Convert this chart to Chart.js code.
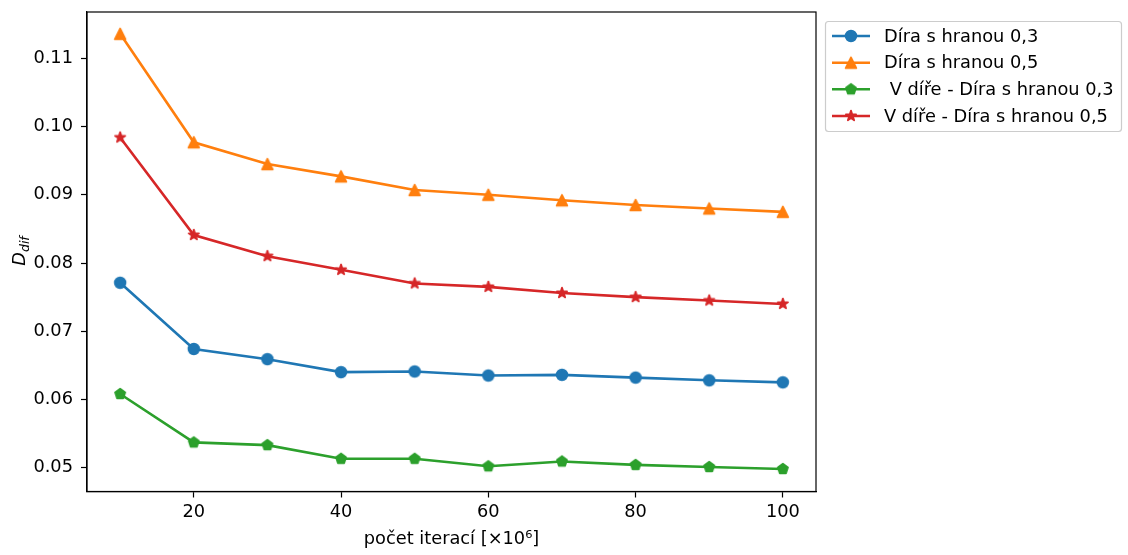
<!DOCTYPE html>
<html>
<head>
<meta charset="utf-8">
<script src="https://cdn.jsdelivr.net/npm/chart.js@4.4.1/dist/chart.umd.min.js"></script>
<style>
  html, body { margin: 0; padding: 0; background: #fff; }
</style>
</head>
<body>
<canvas id="myChart" width="1128" height="555"></canvas>
<script>
// values
const iterations = [10, 20, 30, 40, 50, 60, 70, 80, 90, 100];
const dira03 = [0.0771, 0.0674, 0.0659, 0.0640, 0.0641, 0.0635, 0.0636, 0.0632, 0.0628, 0.0625];
const dira05 = [0.1136, 0.0977, 0.0945, 0.0927, 0.0907, 0.0900, 0.0892, 0.0885, 0.0880, 0.0875];
const vDire03 = [0.0608, 0.0537, 0.0533, 0.0513, 0.0513, 0.0502, 0.0509, 0.0504, 0.0501, 0.0498];
const vDire05 = [0.0984, 0.0841, 0.0810, 0.0790, 0.0770, 0.0765, 0.0756, 0.0750, 0.0745, 0.0740];
const seriesLabels = ["Díra s hranou 0,3", "Díra s hranou 0,5", " V díře - Díra s hranou 0,3", "V díře - Díra s hranou 0,5"];
const xTitle = "počet iterací [×10⁶]";

const FONT = "'DejaVu Sans', 'Liberation Sans', sans-serif";
const FS = 17.8;

// matplotlib-like markers drawn on small canvases
const makeMarker = (shape, color) => {
  const size = 20;
  const r = 5.35;
  const c = document.createElement("canvas");
  c.width = size;
  c.height = size;
  const ctx = c.getContext("2d");
  const cx = size / 2, cy = size / 2;
  ctx.beginPath();
  if (shape === "circle") {
    ctx.arc(cx, cy, r, 0, Math.PI * 2);
  } else if (shape === "triangle") {
    ctx.moveTo(cx, cy - r);
    ctx.lineTo(cx - r, cy + r);
    ctx.lineTo(cx + r, cy + r);
  } else if (shape === "pentagon") {
    for (let i = 0; i < 5; i++) {
      const a = -Math.PI / 2 + i * 2 * Math.PI / 5;
      ctx.lineTo(cx + r * Math.cos(a), cy + r * Math.sin(a));
    }
  } else if (shape === "star") {
    for (let i = 0; i < 10; i++) {
      const a = -Math.PI / 2 + i * Math.PI / 5;
      const rr = i % 2 === 0 ? r : r * 0.381966;
      ctx.lineTo(cx + rr * Math.cos(a), cy + rr * Math.sin(a));
    }
  }
  ctx.closePath();
  ctx.fillStyle = color;
  ctx.fill();
  ctx.lineWidth = 1.78;
  ctx.lineJoin = "round";
  ctx.strokeStyle = color;
  ctx.stroke();
  return c;
};

const colors = ["#1f77b4", "#ff7f0e", "#2ca02c", "#d62728"];
const shapes = ["circle", "triangle", "pentagon", "star"];
const markers = colors.map((col, i) => makeMarker(shapes[i], col));
const seriesValues = [dira03, dira05, vDire03, vDire05];

const datasets = seriesValues.map((vals, i) => ({
  label: seriesLabels[i],
  data: vals.map((v, k) => ({ x: iterations[k], y: v })),
  borderColor: colors[i],
  backgroundColor: colors[i],
  borderWidth: 2.6,
  pointStyle: markers[i],
  pointRadius: 5,
  order: 4 - i,
}));

// top/right spines, legend box and the D_dif label
const decorations = {
  id: "decorations",
  afterDraw(chart) {
    const { ctx, chartArea } = chart;
    ctx.save();
    ctx.strokeStyle = "#000";
    ctx.lineWidth = 1.2;
    ctx.strokeRect(chartArea.left, chartArea.top, chartArea.right - chartArea.left, chartArea.bottom - chartArea.top);

    // legend
    const bx = 825.5, by = 21.5, bw = 296, bh = 110, rad = 3;
    ctx.beginPath();
    ctx.roundRect(bx, by, bw, bh, rad);
    ctx.fillStyle = "rgba(255,255,255,0.8)";
    ctx.fill();
    ctx.strokeStyle = "#cccccc";
    ctx.lineWidth = 1.2;
    ctx.stroke();
    const rows = [36, 62.7, 89.3, 116];
    ctx.font = FS + "px " + FONT;
    ctx.textBaseline = "middle";
    ctx.textAlign = "left";
    seriesLabels.forEach((lab, i) => {
      const y = rows[i];
      ctx.beginPath();
      ctx.moveTo(832, y);
      ctx.lineTo(870, y);
      ctx.strokeStyle = colors[i];
      ctx.lineWidth = 2.6;
      ctx.stroke();
      const m = markers[i];
      ctx.drawImage(m, 851 - m.width / 2, y - m.height / 2);
      ctx.fillStyle = "#000";
      ctx.fillText(lab, 884, y + 1);
    });

    // y title: D with subscript dif
    ctx.translate(25, 251);
    ctx.rotate(-Math.PI / 2);
    ctx.fillStyle = "#000";
    ctx.textBaseline = "alphabetic";
    ctx.font = "italic " + FS + "px " + FONT;
    const wD = ctx.measureText("D").width;
    ctx.font = "italic 12.5px " + FONT;
    const wS = ctx.measureText("dif").width;
    const start = -(wD + wS) / 2;
    ctx.font = "italic " + FS + "px " + FONT;
    ctx.fillText("D", start, 0);
    ctx.font = "italic 12.5px " + FONT;
    ctx.fillText("dif", start + wD, 3.8);
    ctx.restore();
  },
};

Chart.defaults.font.family = FONT;
Chart.defaults.font.size = FS;
Chart.defaults.color = "#000";

const config = {
  type: "line",
  data: { datasets: datasets },
  options: {
    responsive: false,
    animation: false,
    events: [],
    layout: { padding: { left: 0, top: 12, right: 312, bottom: 0 } },
    plugins: {
      legend: { display: false },
      tooltip: { enabled: false },
    },
    scales: {
      x: {
        type: "linear",
        min: 5.5,
        max: 104.5,
        grid: { drawOnChartArea: false, drawTicks: true, tickLength: 6, tickColor: "#000", tickWidth: 1.2 },
        border: { display: true, color: "#000", width: 1.2 },
        ticks: { stepSize: 20, includeBounds: false, padding: 4, maxRotation: 0, color: "#000" },
        title: { display: true, text: xTitle, color: "#000", padding: { top: 2, bottom: 5 } },
        afterFit: (s) => { s.height = 63.5; s.paddingLeft = 0; s.paddingRight = 0; },
      },
      y: {
        type: "linear",
        min: 0.0465,
        max: 0.1168,
        grid: { drawOnChartArea: false, drawTicks: true, tickLength: 6, tickColor: "#000", tickWidth: 1.2 },
        border: { display: true, color: "#000", width: 1.2 },
        ticks: {
          stepSize: 0.01,
          includeBounds: false,
          padding: 8,
          color: "#000",
          callback: (v) => v.toFixed(2),
        },
        afterFit: (s) => { s.width = 87; s.paddingTop = 0; s.paddingBottom = 0; },
      },
    },
  },
  plugins: [decorations],
};

window.onload = () => {
  new Chart(document.getElementById("myChart"), config);
};
</script>
</body>
</html>
